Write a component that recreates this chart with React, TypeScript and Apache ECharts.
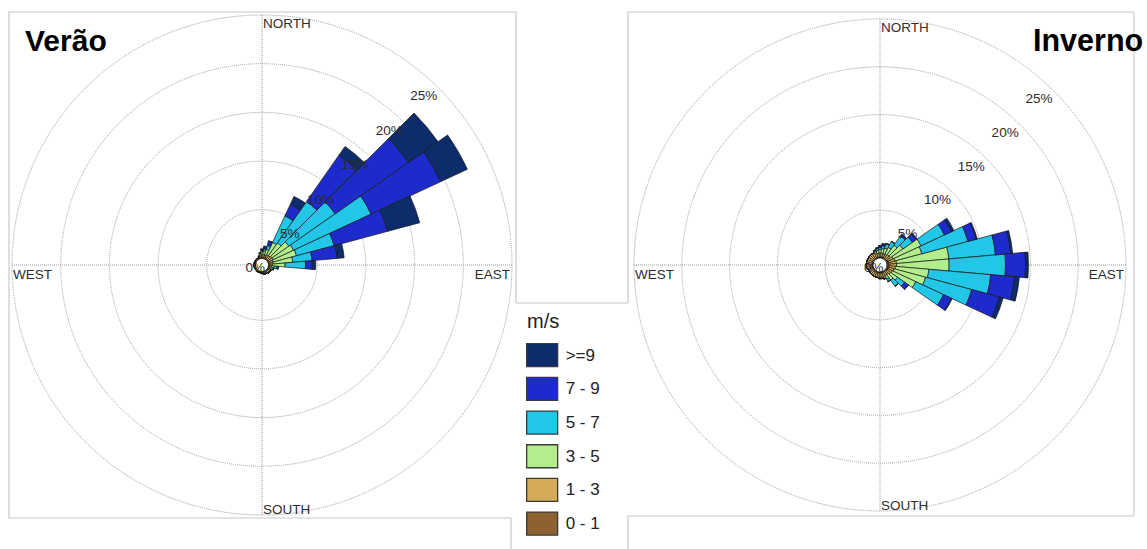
import { useEffect, useRef } from "react";
import * as echarts from "echarts";

// ---------- data ----------
const bearings = ["0","10","20","30","40","50","60","70","80","90","100","110","120","130","140","150","160","170","180","190","200","210","220","230","240","250","260","270","280","290","300","310","320","330","340","350"];
const speedClasses = ["0 - 1", "1 - 3", "3 - 5", "5 - 7", "7 - 9", ">=9"];
const legendOrder = [">=9", "7 - 9", "5 - 7", "3 - 5", "1 - 3", "0 - 1"];
const classColors = ["#8b6230", "#d4ac58", "#b4ee8c", "#22c6e6", "#1e2bcc", "#0c2c6c"];
const radiusTicks = [0, 5, 10, 15, 20, 25];
const compassLabels = ["NORTH", "EAST", "SOUTH", "WEST"];

// Verão (%), per speed class, 36 directions
const verao0_1 = [0.1,0.1,0.1,0.1,0.1,0.1,0.1,0.1,0.1,0.1,0.1,0.1,0.1,0.1,0.1,0.1,0.1,0.1,0.1,0.05,0.05,0.06,0.05,0.04,0.05,0.05,0.04,0.05,0.05,0.06,0.05,0.05,0.05,0.06,0.1,0.1];
const verao1_3 = [0.3,0.3,0.3,0.4,0.4,0.5,0.5,0.4,0.4,0.3,0.2,0.2,0.2,0.2,0.2,0.2,0.2,0.15,0.1,0.1,0.1,0.1,0.1,0.1,0.1,0.1,0.1,0.1,0.1,0.1,0.1,0.1,0.1,0.1,0.1,0.2];
const verao3_5 = [0.3,0.4,0.6,1.4,1.6,2.1,2.3,2.5,2.0,1.3,0.3,0.2,0.1,0.1,0.1,0,0,0,0,0,0,0,0,0,0,0,0,0,0,0,0,0,0,0,0.1,0.2];
const verao5_7 = [0.1,0.2,0.4,3.0,5.2,5.8,8.8,4.0,2.0,2.1,0.3,0.1,0,0,0,0,0,0,0,0,0,0,0,0,0,0,0,0,0,0,0,0,0,0,0,0.1];
const verao7_9 = [0.1,0.1,0.5,1.3,5.8,9.2,7.9,5.7,2.6,0.7,0.1,0,0,0,0,0,0,0,0,0,0,0,0,0,0,0,0,0,0,0,0,0,0,0,0,0];
const verao9 = [0.1,0.2,0,0.9,1.1,3.7,3.0,3.4,0.7,0.35,0.05,0,0,0,0,0,0,0,0,0,0,0,0,0,0,0,0,0,0,0,0,0,0,0,0,0];

// Inverno (%), per speed class, 36 directions
const inverno0_1 = [0.1,0.1,0.1,0.1,0.1,0.1,0.2,0.2,0.2,0.2,0.2,0.2,0.2,0.2,0.1,0.1,0.1,0.1,0.1,0.1,0.1,0.1,0.1,0.1,0.1,0.1,0.1,0.1,0.1,0.1,0.1,0.1,0.1,0.1,0.1,0.1];
const inverno1_3 = [0.4,0.4,0.4,0.4,0.5,0.5,0.6,0.7,0.8,0.8,0.7,0.6,0.5,0.4,0.4,0.4,0.5,0.5,0.5,0.5,0.5,0.5,0.5,0.5,0.5,0.5,0.6,0.6,0.6,0.6,0.6,0.6,0.6,0.6,0.5,0.4];
const inverno3_5 = [0.4,0.5,0.6,0.8,1.2,1.6,3.2,2.9,5.5,5.5,3.5,3.4,2.7,0.9,0.7,0.4,0.2,0.1,0.1,0,0,0,0,0,0,0,0,0,0,0,0,0,0,0,0.2,0.3];
const inverno5_7 = [0.2,0.3,0.5,0.7,1.2,1.2,2.7,5.0,4.9,5.9,6.5,5.0,3.2,0.9,0.8,0.3,0,0,0,0,0,0,0,0,0,0,0,0,0,0,0,0,0,0,0.1,0.2];
const inverno7_9 = [0.2,0.2,0,0,0.2,0.5,0.8,0.9,1.6,2.1,2.5,3.0,0.9,0.5,0,0,0,0,0,0,0,0,0,0,0,0,0,0,0,0,0,0,0,0,0,0.1];
const inverno9 = [0,0,0,0,0,0.1,0.3,0.1,0.2,0.3,0.5,0.4,0.1,0,0,0,0,0,0,0,0,0,0,0,0,0,0,0,0,0,0,0,0,0,0,0];

const veraoSeries = [verao0_1, verao1_3, verao3_5, verao5_7, verao7_9, verao9];
const invernoSeries = [inverno0_1, inverno1_3, inverno3_5, inverno5_7, inverno7_9, inverno9];

// ---------- layout ----------
const FONT = "'Liberation Sans', Arial, sans-serif";
const LEFT = { cx: 262, cy: 265, r0: 6.5, R: 250 };
const RIGHT = { cx: 880, cy: 265, r0: 7, R: 246 };
const GRID_COLOR = "#9c9c9c";
const BOX_COLOR = "#c8c8c8";

function polarAxes(polarIndexGrid: number, polarIndexBars: number) {
  const angle = [
    {
      polarIndex: polarIndexGrid, type: "value", min: 0, max: 360, interval: 90, startAngle: 90, clockwise: true,
      axisLine: { show: false }, axisTick: { show: false }, axisLabel: { show: false },
      splitLine: { show: true, lineStyle: { type: "dotted", color: GRID_COLOR, width: 1 } },
    },
    {
      polarIndex: polarIndexBars, type: "category", data: bearings, startAngle: 95, clockwise: true, boundaryGap: true,
      axisLine: { show: false }, axisTick: { show: false }, axisLabel: { show: false }, splitLine: { show: false },
    },
  ];
  const radius = [
    {
      polarIndex: polarIndexGrid, type: "value", min: 0, max: 25, interval: 5,
      axisLine: { show: false }, axisTick: { show: false }, axisLabel: { show: false },
      splitLine: { show: true, lineStyle: { type: "dotted", color: GRID_COLOR, width: 1 } },
    },
    {
      polarIndex: polarIndexBars, type: "value", min: 0, max: 25, interval: 5,
      axisLine: { show: false }, axisTick: { show: false }, axisLabel: { show: false }, splitLine: { show: false },
    },
  ];
  return { angle, radius };
}

function chartTexts(g: { cx: number; cy: number; r0: number; R: number }) {
  const { cx, cy, r0, R } = g;
  const els: any[] = [];
  const compassPos = [
    { x: cx + 1, y: cy - R + 1, align: "left", verticalAlign: "top" },
    { x: cx + R - 2, y: cy + 2, align: "right", verticalAlign: "top" },
    { x: cx + 1, y: cy + R + 1, align: "left", verticalAlign: "bottom" },
    { x: cx - R + 1, y: cy + 2, align: "left", verticalAlign: "top" },
  ];
  compassLabels.forEach((t, i) => {
    const p = compassPos[i];
    els.push({
      type: "text", z: 100, x: p.x, y: p.y,
      style: { text: t, fill: "#2e2e2e", font: `13.5px ${FONT}`, align: p.align, verticalAlign: p.verticalAlign },
    });
  });
  radiusTicks.forEach((k) => {
    const r = r0 + (k / 25) * (R - r0);
    const a = Math.PI / 4;
    els.push({
      type: "text", z: 100, x: cx + r * Math.cos(a) - 1.5, y: cy - r * Math.sin(a) + 0.5,
      style: { text: `${k}%`, fill: "#2a2a2a", font: `13.5px ${FONT}`, align: "right", verticalAlign: "top" },
    });
  });
  return els;
}

export default function App() {
  const ref = useRef<HTMLDivElement>(null);
  useEffect(() => {
    if (!ref.current) return;
    const chart = echarts.init(ref.current, undefined, { renderer: "svg" });
    const a1 = polarAxes(0, 1);
    const a2 = polarAxes(2, 3);

    const mkSeries = (data: number[][], polarIndex: number, stack: string) =>
      speedClasses.map((name, i) => ({
        type: "bar",
        name,
        coordinateSystem: "polar",
        polarIndex,
        stack,
        data: data[i],
        barCategoryGap: "0%",
        itemStyle: { color: classColors[i], borderColor: "#151515", borderWidth: 0.7 },
        emphasis: { disabled: true },
        z: 5,
      }));

    const boxLines = [
      [[516, 303], [516, 12], [9, 12], [9, 518], [511, 518], [511, 549]],
      [[516, 303], [628, 303]],
      [[628, 303], [628, 12], [1134, 12], [1134, 516], [628, 516], [628, 549]],
    ];

    chart.setOption({
      animation: false,
      backgroundColor: "#ffffff",
      polar: [
        { center: [LEFT.cx, LEFT.cy], radius: [LEFT.r0, LEFT.R] },
        { center: [LEFT.cx, LEFT.cy], radius: [LEFT.r0, LEFT.R] },
        { center: [RIGHT.cx, RIGHT.cy], radius: [RIGHT.r0, RIGHT.R] },
        { center: [RIGHT.cx, RIGHT.cy], radius: [RIGHT.r0, RIGHT.R] },
      ],
      angleAxis: [...a1.angle, ...a2.angle],
      radiusAxis: [...a1.radius, ...a2.radius],
      legend: {
        data: legendOrder,
        orient: "vertical",
        left: 526,
        top: 343,
        padding: 0,
        itemWidth: 31,
        itemHeight: 23,
        itemGap: 9.4,
        icon: "rect",
        selectedMode: false,
        itemStyle: { borderColor: "#3a3a3a", borderWidth: 1.3 },
        textStyle: { fontSize: 17, lineHeight: 20, color: "#222", fontFamily: FONT, padding: [0, 0, 0, 3] },
      },
      series: [...mkSeries(veraoSeries, 1, "verao"), ...mkSeries(invernoSeries, 3, "inverno")],
      graphic: [
        ...boxLines.map((pts) => ({
          type: "polyline", z: 1, shape: { points: pts }, style: { stroke: BOX_COLOR, lineWidth: 1.2, fill: "none" },
        })),
        ...chartTexts(LEFT),
        ...chartTexts(RIGHT),
        {
          type: "text", z: 100, x: 25, y: 40,
          style: { text: "Verão", fill: "#000", font: `bold 30px ${FONT}`, align: "left", verticalAlign: "middle" },
        },
        {
          type: "text", z: 100, x: 1033, y: 40,
          style: { text: "Inverno", fill: "#000", font: `bold 30.5px ${FONT}`, align: "left", verticalAlign: "middle" },
        },
        {
          type: "text", z: 100, x: 527, y: 321,
          style: { text: "m/s", fill: "#222", font: `20px ${FONT}`, align: "left", verticalAlign: "middle" },
        },
      ],
    });
    return () => chart.dispose();
  }, []);
  return <div ref={ref} style={{ position: "fixed", left: 0, top: 0, width: 1147, height: 549 }} />;
}
